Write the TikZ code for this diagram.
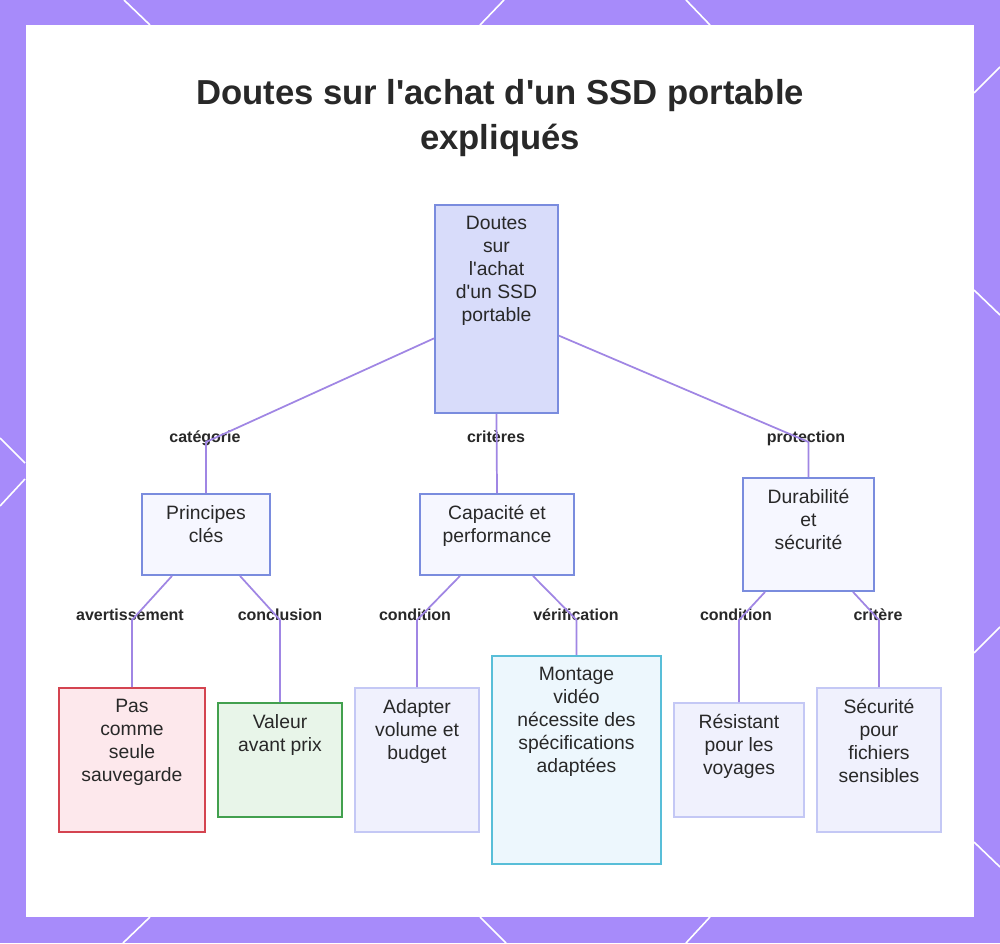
\documentclass[tikz,border=0pt]{standalone}
\usepackage{fontspec}
\setmainfont{Liberation Sans}[Ligatures=TeXOff]
\usetikzlibrary{positioning}

\definecolor{bgpurple}{RGB}{167,139,250}
\definecolor{linkcol}{RGB}{160,134,228}
\definecolor{inkcol}{RGB}{40,40,40}
\definecolor{rootfill}{RGB}{216,220,250}
\definecolor{rootdraw}{RGB}{122,140,222}
\definecolor{midfill}{RGB}{246,247,255}
\definecolor{warnfill}{RGB}{253,232,236}
\definecolor{warndraw}{RGB}{212,68,80}
\definecolor{okfill}{RGB}{232,245,233}
\definecolor{okdraw}{RGB}{66,160,78}
\definecolor{leaffill}{RGB}{240,241,253}
\definecolor{leafdraw}{RGB}{196,200,245}
\definecolor{infofill}{RGB}{237,247,253}
\definecolor{infodraw}{RGB}{88,190,216}

\tikzset{
  box/.style={rectangle, line width=1.4pt, inner sep=0pt},
  rootbox/.style={box, draw=rootdraw, fill=rootfill},
  midbox/.style={box, draw=rootdraw, fill=midfill},
  warnbox/.style={box, draw=warndraw, fill=warnfill},
  okbox/.style={box, draw=okdraw, fill=okfill},
  leafbox/.style={box, draw=leafdraw, fill=leaffill},
  infobox/.style={box, draw=infodraw, fill=infofill},
  boxtext/.style={align=center, inner sep=0pt, text=inkcol,
    font=\fontsize{14.5}{17.25}\selectfont, execute at begin node=\strut},
  lbl/.style={anchor=base, inner sep=0pt, text=inkcol,
    font=\fontsize{12}{14}\selectfont\bfseries},
  link/.style={draw=linkcol, line width=1.3pt},
  hexline/.style={draw=white, line width=1.2pt}
}

\begin{document}
\begin{tikzpicture}[x=0.75pt, y=-0.75pt]
  \useasboundingbox (0,0) rectangle (1000,943);
  \fill[bgpurple] (0,0) rectangle (1000,943);
  \foreach \xa/\ya/\xb/\yb in {124/0/150/25, 504/0/480/25, 686/0/710/25,
      150/917/123/943, 480/917/506/943, 710/917/686/943,
      0/438/25/463, 25/479/0/506,
      974/93/1000/67, 974/290/1000/315, 974/653/1000/627, 974/842/1000/867}
    \draw[hexline] (\xa,\ya) -- (\xb,\yb);
  \fill[white] (26,25) rectangle (974,917);

  \node[align=center, text=inkcol, font=\fontsize{26}{33.75}\selectfont\bfseries] (title)
    at (500,118) {Doutes sur l'achat d'un SSD portable\\expliqués};

  \node[rootbox, minimum width=92.25pt, minimum height=156pt] (root) at (496.5,309) {};
  \node[midbox, minimum width=96pt, minimum height=60.75pt] (pc) at (206,534.5) {};
  \node[midbox, minimum width=115.5pt, minimum height=60.75pt] (cp) at (497,534.5) {};
  \node[midbox, minimum width=98.25pt, minimum height=84.75pt] (ds) at (808.5,534.5) {};
  \node[warnbox, minimum width=109.5pt, minimum height=108pt] (pas) at (132,760) {};
  \node[okbox, minimum width=93pt, minimum height=85.5pt] (val) at (280,760) {};
  \node[leafbox, minimum width=93pt, minimum height=108pt] (adp) at (417,760) {};
  \node[infobox, minimum width=126.75pt, minimum height=156pt] (mtg) at (576.5,760) {};
  \node[leafbox, minimum width=97.5pt, minimum height=85.5pt] (res) at (739,760) {};
  \node[leafbox, minimum width=93pt, minimum height=108pt] (sec) at (879,760) {};

  \node[boxtext, below=9pt of root.north] (roottxt) {Doutes\\sur\\l'achat\\d'un SSD\\portable};
  \node[boxtext, below=9pt of pc.north] (pctxt) {Principes\\clés};
  \node[boxtext, below=9pt of cp.north] (cptxt) {Capacité et\\performance};
  \node[boxtext, below=9pt of ds.north] (dstxt) {Durabilité\\et\\sécurité};
  \node[boxtext, below=9pt of pas.north] (pastxt) {Pas\\comme\\seule\\sauvegarde};
  \node[boxtext, below=9pt of val.north] (valtxt) {Valeur\\avant prix};
  \node[boxtext, below=9pt of adp.north] (adptxt) {Adapter\\volume et\\budget};
  \node[boxtext, below=9pt of mtg.north] (mtgtxt) {Montage\\vidéo\\nécessite des\\spécifications\\adaptées};
  \node[boxtext, below=9pt of res.north] (restxt) {Résistant\\pour les\\voyages};
  \node[boxtext, below=9pt of sec.north] (sectxt) {Sécurité\\pour\\fichiers\\sensibles};

  \node[lbl] (lcat) at (205,442) {catégorie};
  \node[lbl] (lcrit) at (496,442) {critères};
  \node[lbl] (lprot) at (806,442) {protection};
  \node[lbl] (lavert) at (130,620) {avertissement};
  \node[lbl] (lconcl) at (280,620) {conclusion};
  \node[lbl] (lcond) at (415,620) {condition};
  \node[lbl] (lverif) at (576,620) {vérification};
  \node[lbl] (lcondb) at (736,620) {condition};
  \node[lbl] (lcrite) at (878,620) {critère};

  \draw[link] ([yshift=-22pt]root.west) -- (lcat.base -| pc.north) -- (pc.north);
  \draw[link] (root.south) -- (cp.north);
  \draw[link] ([yshift=-20pt]root.east) -- (lprot.base -| ds.north) -- (ds.north);
  \draw[link] ([xshift=-25.5pt]pc.south) -- (lavert.base -| pas.north) -- (pas.north);
  \draw[link] ([xshift=25.5pt]pc.south) -- (lconcl.base -| val.north) -- (val.north);
  \draw[link] ([xshift=-27.75pt]cp.south) -- (lcond.base -| adp.north) -- (adp.north);
  \draw[link] ([xshift=27pt]cp.south) -- (lverif.base -| mtg.north) -- (mtg.north);
  \draw[link] ([xshift=-32.6pt]ds.south) -- (lcondb.base -| res.north) -- (res.north);
  \draw[link] ([xshift=33.4pt]ds.south) -- (lcrite.base -| sec.north) -- (sec.north);
\end{tikzpicture}
\end{document}
